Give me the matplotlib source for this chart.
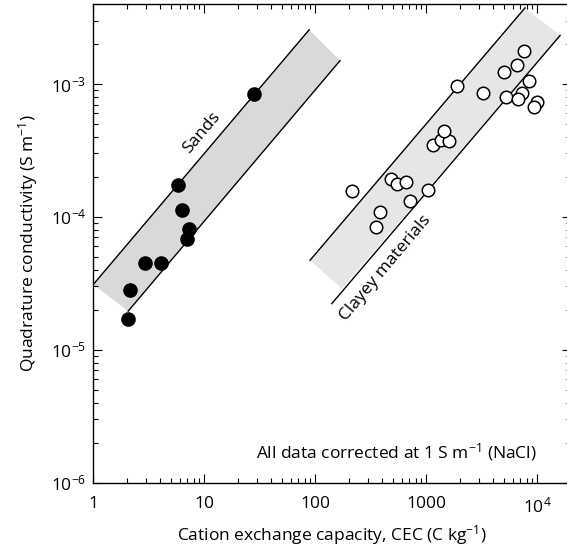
"""
Quadrature conductivity versus cation exchange capacity (sands and clayey materials).
"""

import matplotlib
matplotlib.use('Agg')
import matplotlib.pyplot as plt

plt.rcParams['font.family'] = ['Open Sans', 'DejaVu Sans']
plt.rcParams['mathtext.fontset'] = 'custom'
plt.rcParams['mathtext.rm'] = 'Open Sans'
plt.rcParams['mathtext.it'] = 'Open Sans:italic'
plt.rcParams['mathtext.bf'] = 'Open Sans:bold'

# sands (filled dots)
sands_cec = [28.0, 5.76, 6.26, 7.28, 6.98, 2.90, 4.05, 2.15, 2.04]
sands_sigma = [8.4e-4, 1.73e-4, 1.13e-4, 8.05e-5, 6.8e-5, 4.5e-5, 4.5e-5, 2.8e-5, 1.71e-5]

# clayey materials (open dots)
clay_cec = [215, 383, 352, 478, 548, 657, 713, 1042, 1142, 1349, 1602, 1444,
            1878, 3264, 5190, 5013, 6517, 7640, 8470, 7230, 6745, 9880, 9340]
clay_sigma = [1.56e-4, 1.09e-4, 8.4e-5, 1.92e-4, 1.78e-4, 1.83e-4, 1.31e-4,
              1.59e-4, 3.45e-4, 3.76e-4, 3.72e-4, 4.42e-4, 9.6e-4, 8.5e-4,
              8.05e-4, 1.24e-3, 1.40e-3, 1.77e-3, 1.05e-3, 8.6e-4, 7.7e-4,
              7.3e-4, 6.7e-4]

# band edges (start, end)
sands_upper_x = [1.0, 88.0]
sands_upper_y = [3.1e-5, 2.56e-3]
sands_lower_x = [2.06, 167.0]
sands_lower_y = [1.95e-5, 1.50e-3]

clay_upper_x = [89.6, 7745.0]
clay_upper_y = [4.71e-5, 3.74e-3]
clay_lower_x = [140.6, 16030.0]
clay_lower_y = [2.22e-5, 2.32e-3]
clay_shade_corner = (173.0, 2.88e-5)

x_ticks = [1, 10, 100, 1000, 1e4]
x_ticklabels = ['1', '10', '100', '1000', '$10^4$']
y_ticks = [1e-6, 1e-5, 1e-4, 1e-3]
y_ticklabels = ['$10^{-6}$', '$10^{-5}$', '$10^{-4}$', '$10^{-3}$']

fs = 12.5

fig = plt.figure(figsize=(5.67, 5.5), dpi=100)
ax = fig.add_axes([0.1646, 0.1227, 0.842, 0.870])

# shaded bands
ax.fill([sands_upper_x[0], sands_upper_x[1], sands_lower_x[1], sands_lower_x[0]],
        [sands_upper_y[0], sands_upper_y[1], sands_lower_y[1], sands_lower_y[0]],
        color='#d9d9d9', lw=0, zorder=1)
ax.fill([clay_upper_x[0], clay_upper_x[1], clay_lower_x[1], clay_shade_corner[0]],
        [clay_upper_y[0], clay_upper_y[1], clay_lower_y[1], clay_shade_corner[1]],
        color='#e6e6e6', lw=0, zorder=1)

for xs, ys in [(sands_upper_x, sands_upper_y), (sands_lower_x, sands_lower_y),
               (clay_upper_x, clay_upper_y), (clay_lower_x, clay_lower_y)]:
    ax.plot(xs, ys, color='black', lw=1.0, zorder=2)

ax.plot(sands_cec, sands_sigma, 'o', ms=9.5, mfc='black', mec='black', zorder=3)
ax.plot(clay_cec, clay_sigma, 'o', ms=9.0, mfc='white', mec='black', mew=1.1, zorder=3)

ax.text(9.4, 4.3e-4, 'Sands', rotation=50, ha='center', va='center', fontsize=fs)
ax.text(430, 4.1e-5, 'Clayey materials', rotation=50, ha='center', va='center', fontsize=fs)
ax.text(0.929, 0.063, 'All data corrected at 1 S m$^{-1}$ (NaCl)', transform=ax.transAxes,
        ha='right', va='center', fontsize=fs)

ax.set_xscale('log')
ax.set_yscale('log')
ax.set_xlim(1, 2e4)
ax.set_ylim(1e-6, 4e-3)
ax.set_xticks(x_ticks)
ax.set_xticklabels(x_ticklabels)
ax.set_yticks(y_ticks)
ax.set_yticklabels(y_ticklabels)
ax.tick_params(which='both', direction='in', top=True, right=True, width=0.8, labelsize=fs)
ax.tick_params(which='major', length=6.5)
ax.tick_params(which='minor', length=3.6)
ax.tick_params(axis='x', pad=10)
ax.tick_params(axis='y', pad=5)
for s in ax.spines.values():
    s.set_linewidth(1.0)

ax.set_xlabel('Cation exchange capacity, CEC (C kg$^{-1}$)', fontsize=fs, labelpad=5)
ax.set_ylabel('Quadrature conductivity (S m$^{-1}$)', fontsize=fs, labelpad=8)

fig.savefig('out.png', dpi=100)
